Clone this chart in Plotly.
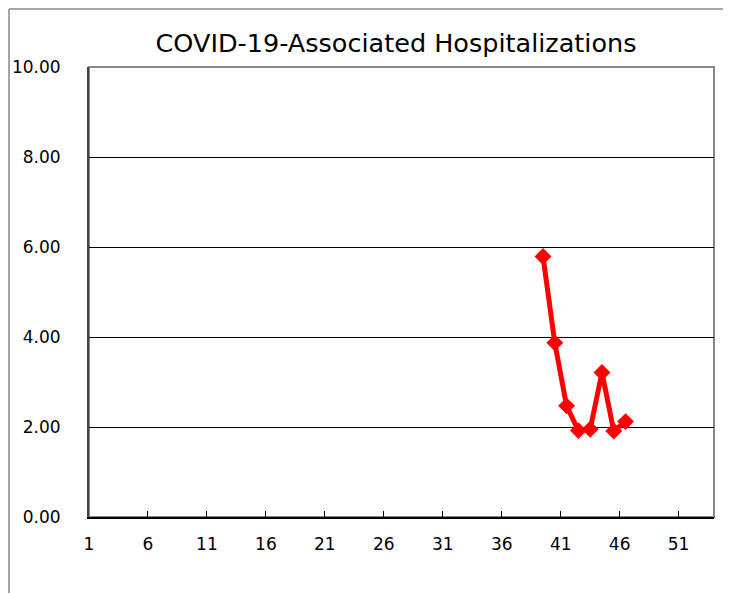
import plotly.graph_objects as go

weeks = [39, 40, 41, 42, 43, 44, 45, 46]
rates = [5.79, 3.87, 2.47, 1.92, 1.95, 3.21, 1.91, 2.12]
x_tick_labels = [1, 6, 11, 16, 21, 26, 31, 36, 41, 46, 51]
y_ticks = [0, 2, 4, 6, 8, 10]
n_weeks = 53

SW, SH = 731, 593          # screen size
OFF = 8                    # page offset of the figure in the screenshot
W, H = SW - OFF, SH - OFF  # figure size, fits the window exactly
# target plot area in screen pixels
PX0, PX1, PY0, PY1 = 89, 714, 67, 517
L, T = PX0 - OFF, PY0 - OFF
R = W - (PX1 - OFF)
B = H - (PY1 - OFF)
pw, ph = PX1 - PX0, PY1 - PY0

def px_to_paper_x(px):
    return (px - PX0) / pw

def px_to_paper_y(py):
    return (PY1 - py) / ph

FONT = "DejaVu Sans"
BX, BY = OFF + 1, OFF + 1  # outer chart border position (screen px)

fig = go.Figure()
fig.add_trace(go.Scatter(
    x=weeks, y=rates, mode="lines+markers",
    line=dict(color="#FF0000", width=5),
    marker=dict(symbol="diamond", size=13, color="#FF0000"),
    showlegend=False, hoverinfo="skip",
))

fig.update_layout(
    width=W, height=H,
    margin=dict(l=L, r=R, t=T, b=B, autoexpand=False),
    paper_bgcolor="white", plot_bgcolor="white",
    font=dict(family=FONT, color="#000000", size=17),
    title=dict(text="COVID-19-Associated Hospitalizations",
               x=(396 - OFF) / W, xanchor="center",
               y=1 - (43 - OFF) / H, yanchor="middle",
               font=dict(family=FONT, size=25.5, color="#000000")),
    xaxis=dict(range=[0.5, n_weeks + 0.5], automargin=False,
               tickmode="array",
               tickvals=[t - 0.5 for t in x_tick_labels],
               ticktext=[str(t) for t in x_tick_labels],
               ticks="inside", ticklen=6, tickwidth=1, tickcolor="#000000",
               showgrid=False, zeroline=False,
               showline=True, linecolor="#000000", linewidth=2,
               tickfont=dict(family=FONT, size=17), ticklabelstandoff=11),
    yaxis=dict(range=[0, 10], automargin=False,
               tickmode="array", tickvals=y_ticks,
               ticktext=[f"{v:.2f}" for v in y_ticks],
               showgrid=True, gridcolor="#000000", gridwidth=1,
               zeroline=False, ticks="",
               showline=True, linecolor="#444444", linewidth=2,
               tickfont=dict(family=FONT, size=17), ticklabelstandoff=23),
    shapes=[
        dict(type="rect", xref="paper", yref="paper", x0=0, x1=1, y0=0, y1=1,
             line=dict(color="#888888", width=2), layer="below"),
        dict(type="line", xref="paper", yref="paper",
             x0=px_to_paper_x(BX), x1=px_to_paper_x(SW + 20),
             y0=px_to_paper_y(BY), y1=px_to_paper_y(BY),
             line=dict(color="#888888", width=1.5)),
        dict(type="line", xref="paper", yref="paper",
             x0=px_to_paper_x(BX), x1=px_to_paper_x(BX),
             y0=px_to_paper_y(BY), y1=px_to_paper_y(SH + 20),
             line=dict(color="#888888", width=1.5)),
    ],
)

fig.write_html("out.html")
